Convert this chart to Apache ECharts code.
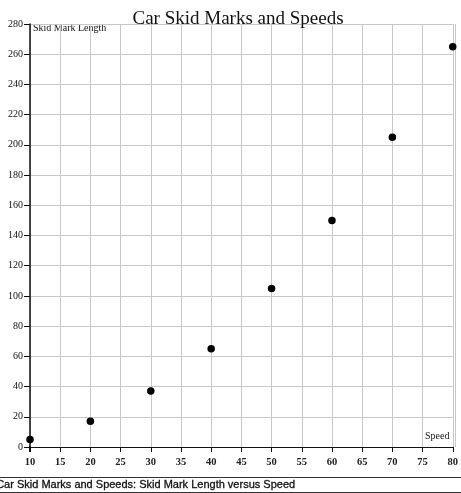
<!DOCTYPE html>
<html><head><meta charset="utf-8">
<script src="https://cdn.jsdelivr.net/npm/echarts@6/dist/echarts.min.js"></script>
<style>html,body{margin:0;padding:0;background:#fff}#c{width:461px;height:493px}</style>
</head><body><div id="c"></div>
<script>
const speeds = [10, 20, 30, 40, 50, 60, 70, 80];
const skidLengths = [5, 17, 37, 65, 105, 150, 205, 265];
const titleText = 'Car Skid Marks and Speeds';
const captionText = 'Car Skid Marks and Speeds: Skid Mark Length versus Speed';
const xName = 'Speed';
const yName = 'Skid Mark Length';

const chart = echarts.init(document.getElementById('c'));
chart.setOption({
  animation: false,
  backgroundColor: '#fff',
  title: {
    text: titleText, left: 233, textAlign: 'center', top: 5,
    textStyle: {fontFamily: 'Liberation Serif', fontSize: 19, fontWeight: 'normal', color: '#111'}
  },
  grid: {left: 30, right: 5, top: 24, bottom: 46},
  xAxis: {
    type: 'value', min: 10, max: 80, interval: 5, offset: 5,
    axisLine: {show: true, lineStyle: {color: '#111', width: 1}},
    axisTick: {show: true, length: 5, inside: false, lineStyle: {color: '#111'}},
    axisLabel: {fontFamily: 'Liberation Serif', fontWeight: 'bold', fontSize: 10.5, color: '#222', margin: 5},
    splitLine: {show: true, lineStyle: {color: '#c8c8c8', width: 1}}
  },
  yAxis: {
    type: 'value', min: 0, max: 280, interval: 20,
    axisLine: {show: true, lineStyle: {color: '#111', width: 1.5}},
    axisTick: {show: true, length: 6, lineStyle: {color: '#111'}},
    axisLabel: {fontFamily: 'Liberation Serif', fontSize: 10, color: '#111', margin: 7},
    splitLine: {show: true, lineStyle: {color: '#c8c8c8', width: 1}}
  },
  graphic: [
    {type: 'rect', left: 455, top: 24, shape: {x: 0, y: 0, width: 1, height: 423}, style: {fill: '#c8c8c8'}, z: 1},
    {type: 'rect', left: 29, top: 446, shape: {x: 0, y: 0, width: 1.5, height: 6}, style: {fill: '#111'}, z: 5},
    {type: 'text', left: 33, top: 23, style: {text: yName, font: '10px "Liberation Serif"', fill: '#111'}},
    {type: 'text', left: 425, top: 431, style: {text: xName, font: '10px "Liberation Serif"', fill: '#111'}},
    {type: 'rect', left: 0, top: 477, shape: {x: 0, y: 0, width: 461, height: 1}, style: {fill: '#333'}},
    {type: 'rect', left: 0, top: 492, shape: {x: 0, y: 0, width: 461, height: 1}, style: {fill: '#333'}},
    {type: 'text', left: -4, top: 479, style: {text: captionText, font: '500 11px "Liberation Sans"', fill: '#111', stroke: '#111', lineWidth: 0.3}}
  ],
  series: [{
    type: 'scatter',
    data: speeds.map((s, i) => [s, skidLengths[i]]),
    symbol: 'circle', symbolSize: 7.5,
    itemStyle: {color: '#000', opacity: 1},
    clip: false
  }]
});
</script></body></html>
